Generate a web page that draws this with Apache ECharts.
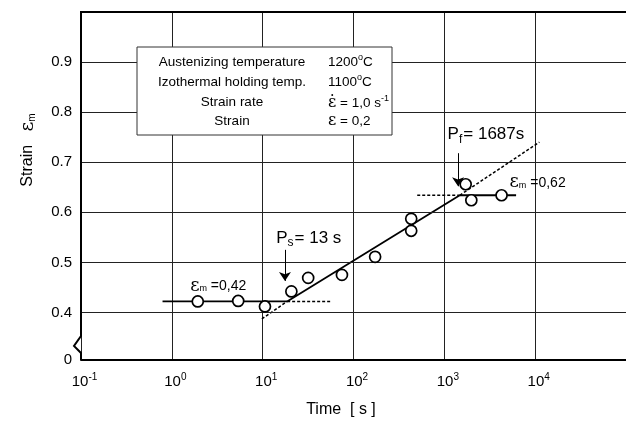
<!DOCTYPE html>
<html><head><meta charset="utf-8">
<script src="https://cdn.jsdelivr.net/npm/echarts@6/dist/echarts.min.js"></script>
<style>html,body{margin:0;padding:0;background:#fff}#c{width:626px;height:422px}</style>
</head><body><div id="c"></div>
<script>
const FONT = '"Liberation Sans", Arial, Helvetica, sans-serif';
// measured points: time [s], strain
const timeS  = [1.93, 5.38, 10.6, 20.7, 31.7, 74.6, 173, 432, 432, 1718, 1982, 4266];
const strain = [0.422, 0.423, 0.412, 0.442, 0.469, 0.475, 0.511, 0.587, 0.563, 0.656, 0.624, 0.634];
// fitted lines
const lowPlateau      = [[0.79, 0.422], [18.6, 0.422]];
const lowPlateauDash  = [[18.6, 0.422], [55.7, 0.422]];
const riseDashLow     = [[9.8, 0.387], [18.6, 0.422]];
const rise            = [[18.6, 0.422], [1479, 0.634]];
const riseDashHigh    = [[1479, 0.634], [11120, 0.740]];
const highPlateauDash = [[503, 0.634], [1479, 0.634]];
const highPlateau     = [[1479, 0.634], [6166, 0.634]];
// arrows
const arrowPs = [[17.6, 0.525], [17.6, 0.463]];
const arrowPf = [[1416, 0.718], [1416, 0.652]];
// ticks
const xTickExp = [-1, 0, 1, 2, 3, 4];
const yTicks = [0.4, 0.5, 0.6, 0.7, 0.8, 0.9];
const yMin = 0.305, yMax = 1.0;
// notes
const notes = [
  {x: 32.2, y: 0.549, text: '{P|P}{sub|s}{t|= 13 s}'},
  {x: 2870, y: 0.755, text: '{P|P}{sub|f}{t|= 1687s}'},
  {x: 3.24, y: 0.453, text: '{e|ε}{m|m}{v| =0,42}'},
  {x: 10640, y: 0.659, text: '{e|ε}{m|m}{v| =0,62}'}
];
const boxLeft = ['Austenizing temperature', 'Izothermal holding temp.', 'Strain rate', 'Strain'];
const boxRight = ['1200{sup|o}C', '1100{sup|o}C', '{e|ε̇} = 1,0 s{sup|-1}', '{e|ε} = 0,2'];

const G = {left: 81, top: 12, right: 626, bottom: 360};
const chart = echarts.init(document.getElementById('c'));
const lineS = (d, dashed, w) => ({type: 'line', data: d, symbol: 'none', silent: true, z: 3,
  lineStyle: {color: '#000', width: w || (dashed ? 1.5 : 1.8), type: dashed ? [3, 2] : 'solid'}});
const richNote = {
  P: {fontSize: 17, fontFamily: FONT, color: '#000'},
  sub: {fontSize: 12, fontFamily: FONT, color: '#000', padding: [10, 1, 0, 0]},
  t: {fontSize: 17, fontFamily: FONT, color: '#000'},
  e: {fontSize: 18, fontFamily: 'DejaVu Serif', color: '#000'},
  m: {fontSize: 9, fontFamily: FONT, color: '#000', padding: [6, 0, 0, 0]},
  v: {fontSize: 14, fontFamily: FONT, color: '#000'}
};
chart.setOption({
  animation: false,
  grid: {left: G.left, top: G.top, width: G.right - G.left, height: G.bottom - G.top, show: false},
  xAxis: {
    type: 'log', logBase: 10, min: 0.1, max: 100000,
    axisLine: {show: true, lineStyle: {color: '#000', width: 2}},
    axisTick: {show: false},
    splitLine: {show: true, lineStyle: {color: '#222', width: 1}},
    axisLabel: {
      margin: 12, color: '#000', showMaxLabel: false, padding: [0, 0, 0, 7],
      formatter: v => {
        const e = Math.round(Math.log10(v));
        if (xTickExp.indexOf(e) < 0) return '';
        return '{b|10}{s|' + e + '}';
      },
      rich: {
        b: {fontSize: 15, fontFamily: FONT, color: '#000'},
        s: {fontSize: 10, fontFamily: FONT, color: '#000', padding: [0, 0, 9, 0]}
      }
    }
  },
  yAxis: {
    type: 'value', min: yMin, max: yMax,
    axisLine: {show: false},
    axisTick: {show: false},
    splitLine: {show: false},
    axisLabel: {
      customValues: [yMin].concat(yTicks),
      fontSize: 15, fontFamily: FONT, color: '#000', margin: 9,
      formatter: v => v < 0.35 ? '0' : v.toFixed(1)
    }
  },
  series: [
    {type: 'line', data: [], silent: true, z: 1,
      markLine: {silent: true, symbol: 'none', label: {show: false}, animation: false,
        lineStyle: {color: '#222', width: 1, type: 'solid'},
        data: yTicks.map(v => ({yAxis: v}))}},
    lineS(lowPlateau, false), lineS(lowPlateauDash, true), lineS(riseDashLow, true),
    lineS(rise, false), lineS(riseDashHigh, true), lineS(highPlateauDash, true), lineS(highPlateau, false),
    {type: 'line', data: [], silent: true, z: 4,
      markLine: {silent: true, symbol: ['none', 'arrow'], symbolSize: 9, label: {show: false}, animation: false,
        itemStyle: {color: '#000'},
        lineStyle: {color: '#000', width: 1, type: 'solid', opacity: 1},
        data: [arrowPs, arrowPf].map(a => [{coord: a[0]}, {coord: a[1]}])}},
    {type: 'scatter', z: 5, symbol: 'circle', symbolSize: 11, silent: true,
      itemStyle: {color: '#fff', borderColor: '#000', borderWidth: 1.7, opacity: 1},
      data: timeS.map((t, i) => [t, strain[i]])},
    {type: 'scatter', symbolSize: 0, silent: true, z: 6, itemStyle: {opacity: 1},
      data: notes.map(n => ({value: [n.x, n.y], label: {show: true, position: 'inside', color: '#000', textBorderWidth: 0, formatter: n.text, rich: richNote}}))}
  ]
});
// frame: top line and broken y-axis line
const b = G.bottom;
const lx = G.left;
const textSt = {fontFamily: FONT, fill: '#000'};
chart.setOption({
  graphic: [
    {type: 'line', shape: {x1: lx - 1, y1: G.top, x2: G.right + 2, y2: G.top}, style: {stroke: '#000', lineWidth: 2}, z: 10},
    {type: 'polyline', shape: {points: [[lx, G.top], [lx, b - 24], [lx - 7, b - 14], [lx, b - 7], [lx, b]]},
      style: {stroke: '#000', lineWidth: 2, fill: null}, z: 10},
    {type: 'rect', shape: {x: 137, y: 47, width: 255, height: 88}, style: {fill: '#fff', stroke: '#333', lineWidth: 1}, z: 20},
    ...boxLeft.map((t, i) => ({type: 'text', z: 21, style: Object.assign({}, textSt, {text: t, x: 232, y: [62, 82, 102, 121][i], fontSize: 13.5, align: 'center', verticalAlign: 'middle'})})),
    ...boxRight.map((t, i) => ({type: 'text', z: 21, style: Object.assign({}, textSt, {text: t, x: 328, y: [62, 82, 103, 121][i], fontSize: 13.5, align: 'left', verticalAlign: 'middle',
      rich: {sup: {fontSize: 9, fontFamily: FONT, padding: [0, 0, 8, 0]}, e: {fontSize: 16, fontFamily: 'DejaVu Serif'}}})})),
    {type: 'text', z: 21, style: Object.assign({}, textSt, {text: '{a|Strain   }{e|ε}{m|m}', x: 28, y: 150, align: 'center', verticalAlign: 'middle',
      rich: {a: {fontSize: 16, fontFamily: FONT}, e: {fontSize: 19, fontFamily: 'DejaVu Serif'}, m: {fontSize: 10, fontFamily: FONT, padding: [8, 0, 0, 0]}}}), rotation: Math.PI / 2, x: 0, y: 0, originX: 28, originY: 150},
    {type: 'text', z: 21, style: Object.assign({}, textSt, {text: 'Time  [ s ]', x: 341, y: 410, fontSize: 16, align: 'center', verticalAlign: 'middle'})}
  ]
});
</script></body></html>
